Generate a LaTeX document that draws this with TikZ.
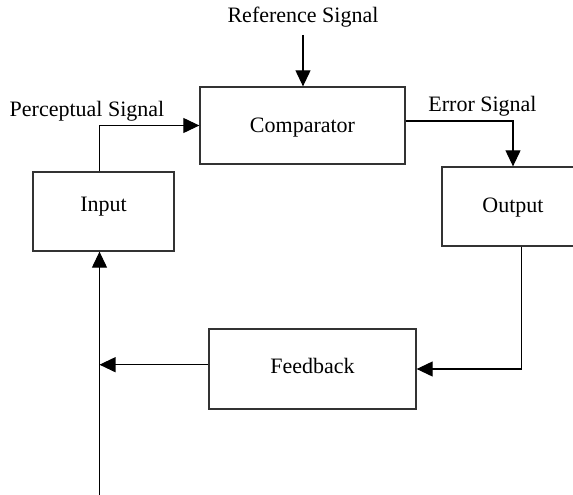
\documentclass[tikz,border=0pt]{standalone}
\usepackage{fontspec}
\setmainfont{Liberation Serif}
\usetikzlibrary{arrows.meta}
\begin{document}
\begin{tikzpicture}[x=1pt,y=-1pt,
  box/.style={draw=black!80,line width=1.3pt,rectangle,inner sep=0pt,text depth=0pt,font=\fontsize{22}{26}\selectfont},
  lbl/.style={anchor=base,inner sep=0pt,font=\fontsize{22}{26}\selectfont},
  arr/.style={draw=black,line width=1.1pt,-{Triangle[length=16pt,width=15pt]}},
  conn/.style={draw=black,line width=1.1pt}]
\useasboundingbox (0,0) rectangle (573,495);
\clip (0,0) rectangle (573,495);
\node[box,minimum width=205pt,minimum height=77pt,text height=14.4pt] (comp) at (302.5,125.5) {Comparator};
\node[box,minimum width=141pt,minimum height=79pt,text height=7pt,text depth=7pt] (input) at (103.5,211.5) {Input};
\node[box,minimum width=142pt,minimum height=79pt,text height=11pt] (output) at (513,206.5) {Output};
\node[box,minimum width=207pt,minimum height=80pt,text height=8pt] (feedback) at (312.5,369) {Feedback};
\node[lbl] (reflbl) at (303,23) {Reference Signal};
\node[lbl] (perclbl) at (87,116) {Perceptual Signal};
\node[lbl] (errlbl) at (482.5,111.7) {Error Signal};
\coordinate (reftop) at (303,35);
\coordinate (join) at (99.5,364.7);
\coordinate (bot) at (99.5,497);
\draw[arr] (reftop) -- (comp.north -| reftop);
\draw[arr] ([xshift=-4.2pt]input.north) |- (comp.west);
\draw[arr] ([yshift=4.5pt]comp.east) -| (output.north);
\draw[arr] ([xshift=8.7pt]output.south) |- (feedback.east);
\draw[arr] ([yshift=4.3pt]feedback.west) -- (join);
\draw[arr] (bot) -- (input.south -| bot);
\end{tikzpicture}
\end{document}
